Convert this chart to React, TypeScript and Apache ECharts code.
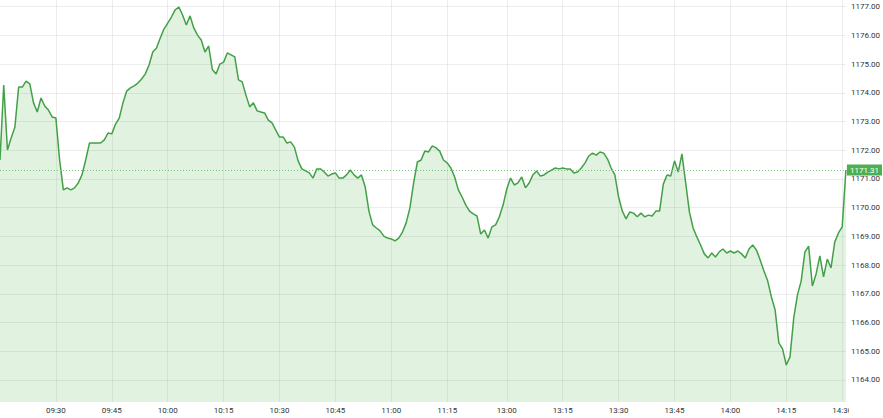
import React, { useEffect, useRef } from "react";
import * as echarts from "echarts";

// Trading sessions (minute bars)
const sessions: [string, string][] = [
  ["09:15", "11:30"],
  ["13:00", "14:31"],
];

// Labelled times on the x axis
const timeTicks = [
  "09:30", "09:45", "10:00", "10:15", "10:30", "10:45", "11:00", "11:15",
  "13:00", "13:15", "13:30", "13:45", "14:00", "14:15", "14:30",
];

// Y axis tick values
const priceTicks = [1164, 1165, 1166, 1167, 1168, 1169, 1170, 1171, 1172, 1173, 1174, 1175, 1176, 1177];

const lastPrice = 1171.31;

// Price per minute
const prices = [
  1171.66, 1174.27, 1172.01, 1172.43, 1172.81, 1174.2, 1174.2, 1174.41, 1174.31, 1173.65,
  1173.33, 1173.82, 1173.54, 1173.4, 1173.16, 1173.12, 1171.66, 1170.62, 1170.69, 1170.62,
  1170.69, 1170.86, 1171.14, 1171.66, 1172.25, 1172.25, 1172.25, 1172.25, 1172.36, 1172.6,
  1172.57, 1172.91, 1173.12, 1173.65, 1174.06, 1174.17, 1174.24, 1174.34, 1174.48, 1174.66,
  1174.97, 1175.42, 1175.56, 1175.91, 1176.22, 1176.43, 1176.64, 1176.89, 1176.99, 1176.71,
  1176.36, 1176.68, 1176.26, 1176.01, 1175.84, 1175.42, 1175.63, 1174.8, 1174.66, 1175.0,
  1175.07, 1175.39, 1175.32, 1175.25, 1174.45, 1174.38, 1173.92, 1173.51, 1173.65, 1173.37,
  1173.33, 1173.3, 1173.05, 1172.95, 1172.7, 1172.46, 1172.46, 1172.25, 1172.29, 1172.11,
  1171.63, 1171.35, 1171.28, 1171.21, 1171.03, 1171.35, 1171.35, 1171.24, 1171.1, 1171.17,
  1171.21, 1171.03, 1171.03, 1171.14, 1171.31, 1171.14, 1171.03, 1171.14, 1170.72, 1169.88,
  1169.4, 1169.29, 1169.19, 1169.01, 1168.94, 1168.91, 1168.84, 1168.94, 1169.15, 1169.47,
  1169.99, 1170.86, 1171.59, 1171.66, 1171.97, 1171.94, 1172.15, 1172.08, 1171.97, 1171.66,
  1171.56, 1171.38, 1171.07, 1170.62, 1170.37, 1170.09, 1169.88, 1169.78, 1169.71, 1169.08,
  1169.22, 1168.94, 1169.33, 1169.4, 1169.68, 1170.09,
  // afternoon session
  1170.65, 1171.03, 1170.79, 1170.86,
  1171.07, 1170.69, 1170.86, 1171.14, 1171.28, 1171.1, 1171.14, 1171.24, 1171.31, 1171.38,
  1171.35, 1171.38, 1171.35, 1171.35, 1171.21, 1171.24, 1171.38, 1171.56, 1171.8, 1171.9,
  1171.83, 1171.94, 1171.9, 1171.7, 1171.38, 1171.14, 1170.37, 1169.88, 1169.61, 1169.85,
  1169.81, 1169.68, 1169.81, 1169.68, 1169.74, 1169.71, 1169.88, 1169.88, 1170.82, 1171.14,
  1171.1, 1171.63, 1171.24, 1171.87, 1170.86, 1169.85, 1169.29, 1168.98, 1168.7, 1168.39,
  1168.25, 1168.42, 1168.28, 1168.46, 1168.56, 1168.42, 1168.49, 1168.42, 1168.49, 1168.39,
  1168.25, 1168.56, 1168.7, 1168.52, 1168.18, 1167.79, 1167.45, 1166.89, 1166.44, 1165.29,
  1165.08, 1164.52, 1164.8, 1166.16, 1166.96, 1167.45, 1168.46, 1168.66, 1167.27, 1167.69,
  1168.32, 1167.59, 1168.21, 1167.9, 1168.8, 1169.12, 1169.33, 1171.31,
];

function toMin(t: string) {
  const [h, m] = t.split(":").map(Number);
  return h * 60 + m;
}
function fmt(m: number) {
  const h = Math.floor(m / 60);
  const mm = m % 60;
  return String(h).padStart(2, "0") + ":" + String(mm).padStart(2, "0");
}
const times: string[] = [];
sessions.forEach(([a, b]) => {
  for (let m = toMin(a); m <= toMin(b); m++) times.push(fmt(m));
});

const GREEN = "#43a047";

export default function App() {
  const ref = useRef<HTMLDivElement>(null);
  useEffect(() => {
    if (!ref.current) return;
    const chart = echarts.init(ref.current, undefined, { renderer: "svg" });
    const showTick = (_i: number, v: string) => timeTicks.includes(v);
    chart.setOption({
      animation: false,
      backgroundColor: "#ffffff",
      textStyle: { fontFamily: "Roboto, 'Noto Sans', sans-serif" },
      grid: { left: 0, right: 35, top: 0, bottom: 16, containLabel: false },
      xAxis: {
        type: "category",
        data: times,
        boundaryGap: false,
        axisLine: { show: false },
        axisTick: { show: false },
        axisLabel: {
          interval: showTick,
          fontSize: 8,
          color: "#333",
          margin: 4,
        },
        splitLine: {
          show: true,
          interval: showTick,
          lineStyle: { color: "rgba(0,0,0,0.07)", width: 1 },
        },
      },
      yAxis: {
        type: "value",
        position: "right",
        min: 1163.23,
        max: 1177.233,
        axisLine: { show: false },
        axisTick: { show: false, customValues: priceTicks },
        axisLabel: {
          customValues: priceTicks,
          fontSize: 8,
          color: "#333",
          margin: 5,
          formatter: (v: number) => v.toFixed(2),
        },
        splitLine: {
          show: true,
          lineStyle: { color: "rgba(0,0,0,0.07)", width: 1 },
        },
      },
      series: [
        {
          type: "line",
          data: prices,
          showSymbol: false,
          symbol: "none",
          lineStyle: { color: GREEN, width: 1.5 },
          itemStyle: { color: GREEN },
          areaStyle: { color: "rgba(76,175,80,0.24)", origin: "start" },
          markLine: {
            silent: true,
            symbol: ["none", "none"],
            data: [{ yAxis: lastPrice }],
            lineStyle: { color: "#7cc47f", type: [1, 2], width: 1 },
            label: {
              position: "end",
              distance: 1,
              formatter: () => lastPrice.toFixed(2),
              backgroundColor: "#4caf50",
              color: "#ffffff",
              fontSize: 8,
              padding: [2, 3, 1, 3],
            },
          },
        },
      ],
      graphic: [
        {
          type: "rect",
          z: 100,
          shape: { x: 849, y: 403, width: 40, height: 20 },
          style: { fill: "#ffffff" },
        },
      ],
    });
    return () => chart.dispose();
  }, []);
  return (
    <div
      ref={ref}
      style={{ position: "fixed", left: 0, top: 0, width: 883, height: 418 }}
    />
  );
}
